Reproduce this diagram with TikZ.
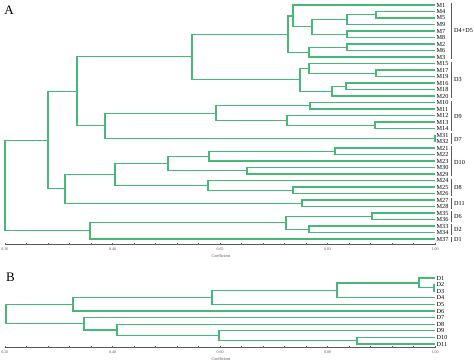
\documentclass[tikz,border=0pt]{standalone}
\usepackage{fontspec}
\setmainfont{Liberation Serif}
\definecolor{dgreen}{RGB}{70,184,120}
\definecolor{axgray}{RGB}{90,90,90}
\begin{document}
\begin{tikzpicture}[x=1pt,y=-1pt,
  br/.style={draw=dgreen,line width=1.1pt},
  lbl/.style={anchor=west,inner sep=0pt,font=\fontsize{6.2}{6.2}\selectfont,xshift=1.5pt},
  grp/.style={anchor=west,inner sep=0pt,font=\fontsize{6.2}{6.2}\selectfont},
  panel/.style={inner sep=0pt,font=\fontsize{13}{13}\selectfont},
  bracket/.style={draw=axgray,line width=0.6pt},
  ax/.style={draw=axgray,line width=0.6pt},
  ticklbl/.style={inner sep=0pt,font=\fontsize{4}{4}\selectfont,text=axgray},
  coef/.style={inner sep=0pt,font=\fontsize{4.2}{4.2}\selectfont,text=axgray}]
\useasboundingbox (0,0) rectangle (474,364);
\fill[white] (0,0) rectangle (474,364);

% ---------------- Panel A ----------------
\node[panel] (pA) at (9,10) {A};
\foreach \n/\y in {M1/5,M4/11.5,M5/18,M9/24.5,M7/31,M8/37.5,M2/44,M6/50.5,M3/57,
  M15/63.5,M17/70,M19/76.5,M16/83,M18/89.5,M20/96,M10/102.5,M11/109,M12/115.5,
  M13/122,M14/128.5,M31/135,M32/141.5,M21/148,M22/154.5,M23/161,M30/167.5,M29/174,
  M24/180.5,M25/187,M26/193.5,M27/200,M28/206.5,M35/213,M36/219.5,M33/226,M34/232.5,M37/239}
  {\coordinate (\n) at (435,\y); \node[lbl] (t\n) at (\n) {\n};}

\foreach \n/\x/\y in {a1/376/14.75,a2/347/19.63,m78/347/34.25,a3/312/26.94,a4/293/15.97,
  m26/347/47.25,a5/309/52.13,a6/288/34.05,m1719/376/73.25,b1/309/68.38,m1618/346/86.25,
  b2/332/91.13,b3/300/79.75,c1/192/56.9,m1011/310/105.75,m1314/375/125.25,d1/287/120.38,
  d2/216/113.06,m3132/435/138.25,d3/105/125.66,e1/77/91.28,m2122/335/151.25,f1/209/156.13,
  m3029/247/170.75,f2/168/163.44,m2526/293/190.25,f3/208/185.38,f4/115/174.4,
  m2728/302/203.25,f5/65/188.83,g1/48/140.05,m3536/372/216.25,m3334/309/229.25,
  h1/286/222.75,h2/90/230.88,rA/5/185.46}
  {\coordinate (\n) at (\x,\y);}

\foreach \p/\a/\b in {a1/M4/M5,a2/a1/M9,m78/M7/M8,a3/a2/m78,a4/M1/a3,m26/M2/M6,a5/m26/M3,
  a6/a4/a5,m1719/M17/M19,b1/M15/m1719,m1618/M16/M18,b2/m1618/M20,b3/b1/b2,c1/a6/b3,
  m1011/M10/M11,m1314/M13/M14,d1/M12/m1314,d2/m1011/d1,m3132/M31/M32,d3/d2/m3132,
  e1/c1/d3,m2122/M21/M22,f1/m2122/M23,m3029/M30/M29,f2/f1/m3029,m2526/M25/M26,
  f3/M24/m2526,f4/f2/f3,m2728/M27/M28,f5/f4/m2728,g1/e1/f5,m3536/M35/M36,m3334/M33/M34,
  h1/m3536/m3334,h2/h1/M37,rA/g1/h2}
  {\draw[br] (\a) -| (\p) |- (\b);}

% group brackets A
\foreach \g/\t/\ya/\yb/\yl in {gA/D4+D5/3/59/30,gB/D3/61.5/98/79,gC/D9/100.5/130.5/116,
  gD/D7/133/143.5/139,gE/D10/146/176/162,gF/D8/178.5/195.5/187,gG/D11/198/208.5/203,
  gH/D6/211/221.5/216,gI/D2/224/234.5/229,gJ/D1/237/241.5/239.5}
  {\coordinate (\g s) at (451,\ya); \coordinate (\g e) at (451,\yb);
   \draw[bracket] (\g s) -- (\g e);
   \node[grp] (\g) at (454,\yl) {\t};}

% axis A
\coordinate (axAs) at (5,244.5); \coordinate (axAe) at (435,244.5);
\draw[ax] (axAs) -- (axAe);
\foreach \k in {0,...,20} {\draw[ax] (5+21.5*\k,244.5) -- ++(0,-2);}
\foreach \k/\t in {0/0.30,1/0.48,2/0.65,3/0.83,4/1.00}
  {\node[ticklbl] (xa\k) at (5+107.5*\k,249.5) {\t};}
\node[coef] (cA) at (221,256) {Coefficient};

% ---------------- Panel B ----------------
\node[panel] (pB) at (10.5,277) {B};
\foreach \n/\y in {D1/278,D2/284.6,D3/291.2,D4/297.8,D5/304.4,D6/311,D7/317.6,
  D8/324.2,D9/330.8,D10/337.4,D11/344}
  {\coordinate (\n) at (435,\y); \node[lbl] (t\n) at (\n) {\n};}

\foreach \n/\x/\y in {n23/434/287.9,n1/419/282.95,n2/337/290.38,n3/212/297.39,
  n4/73/304.2,n1011/357/340.7,n5/219/335.75,n6/117/329.98,n7/84/323.79,rB/6/314}
  {\coordinate (\n) at (\x,\y);}

\foreach \p/\a/\b in {n23/D2/D3,n1/D1/n23,n2/n1/D4,n3/n2/D5,n4/n3/D6,
  n1011/D10/D11,n5/D9/n1011,n6/D8/n5,n7/D7/n6,rB/n4/n7}
  {\draw[br] (\a) -| (\p) |- (\b);}

% axis B
\coordinate (axBs) at (5,347.5); \coordinate (axBe) at (435,347.5);
\draw[ax] (axBs) -- (axBe);
\foreach \k in {0,...,20} {\draw[ax] (5+21.5*\k,347.5) -- ++(0,-2);}
\foreach \k/\t in {0/0.20,1/0.40,2/0.60,3/0.80,4/1.00}
  {\node[ticklbl] (xb\k) at (5+107.5*\k,352.5) {\t};}
\node[coef] (cB) at (221,359) {Coefficient};
\end{tikzpicture}
\end{document}
